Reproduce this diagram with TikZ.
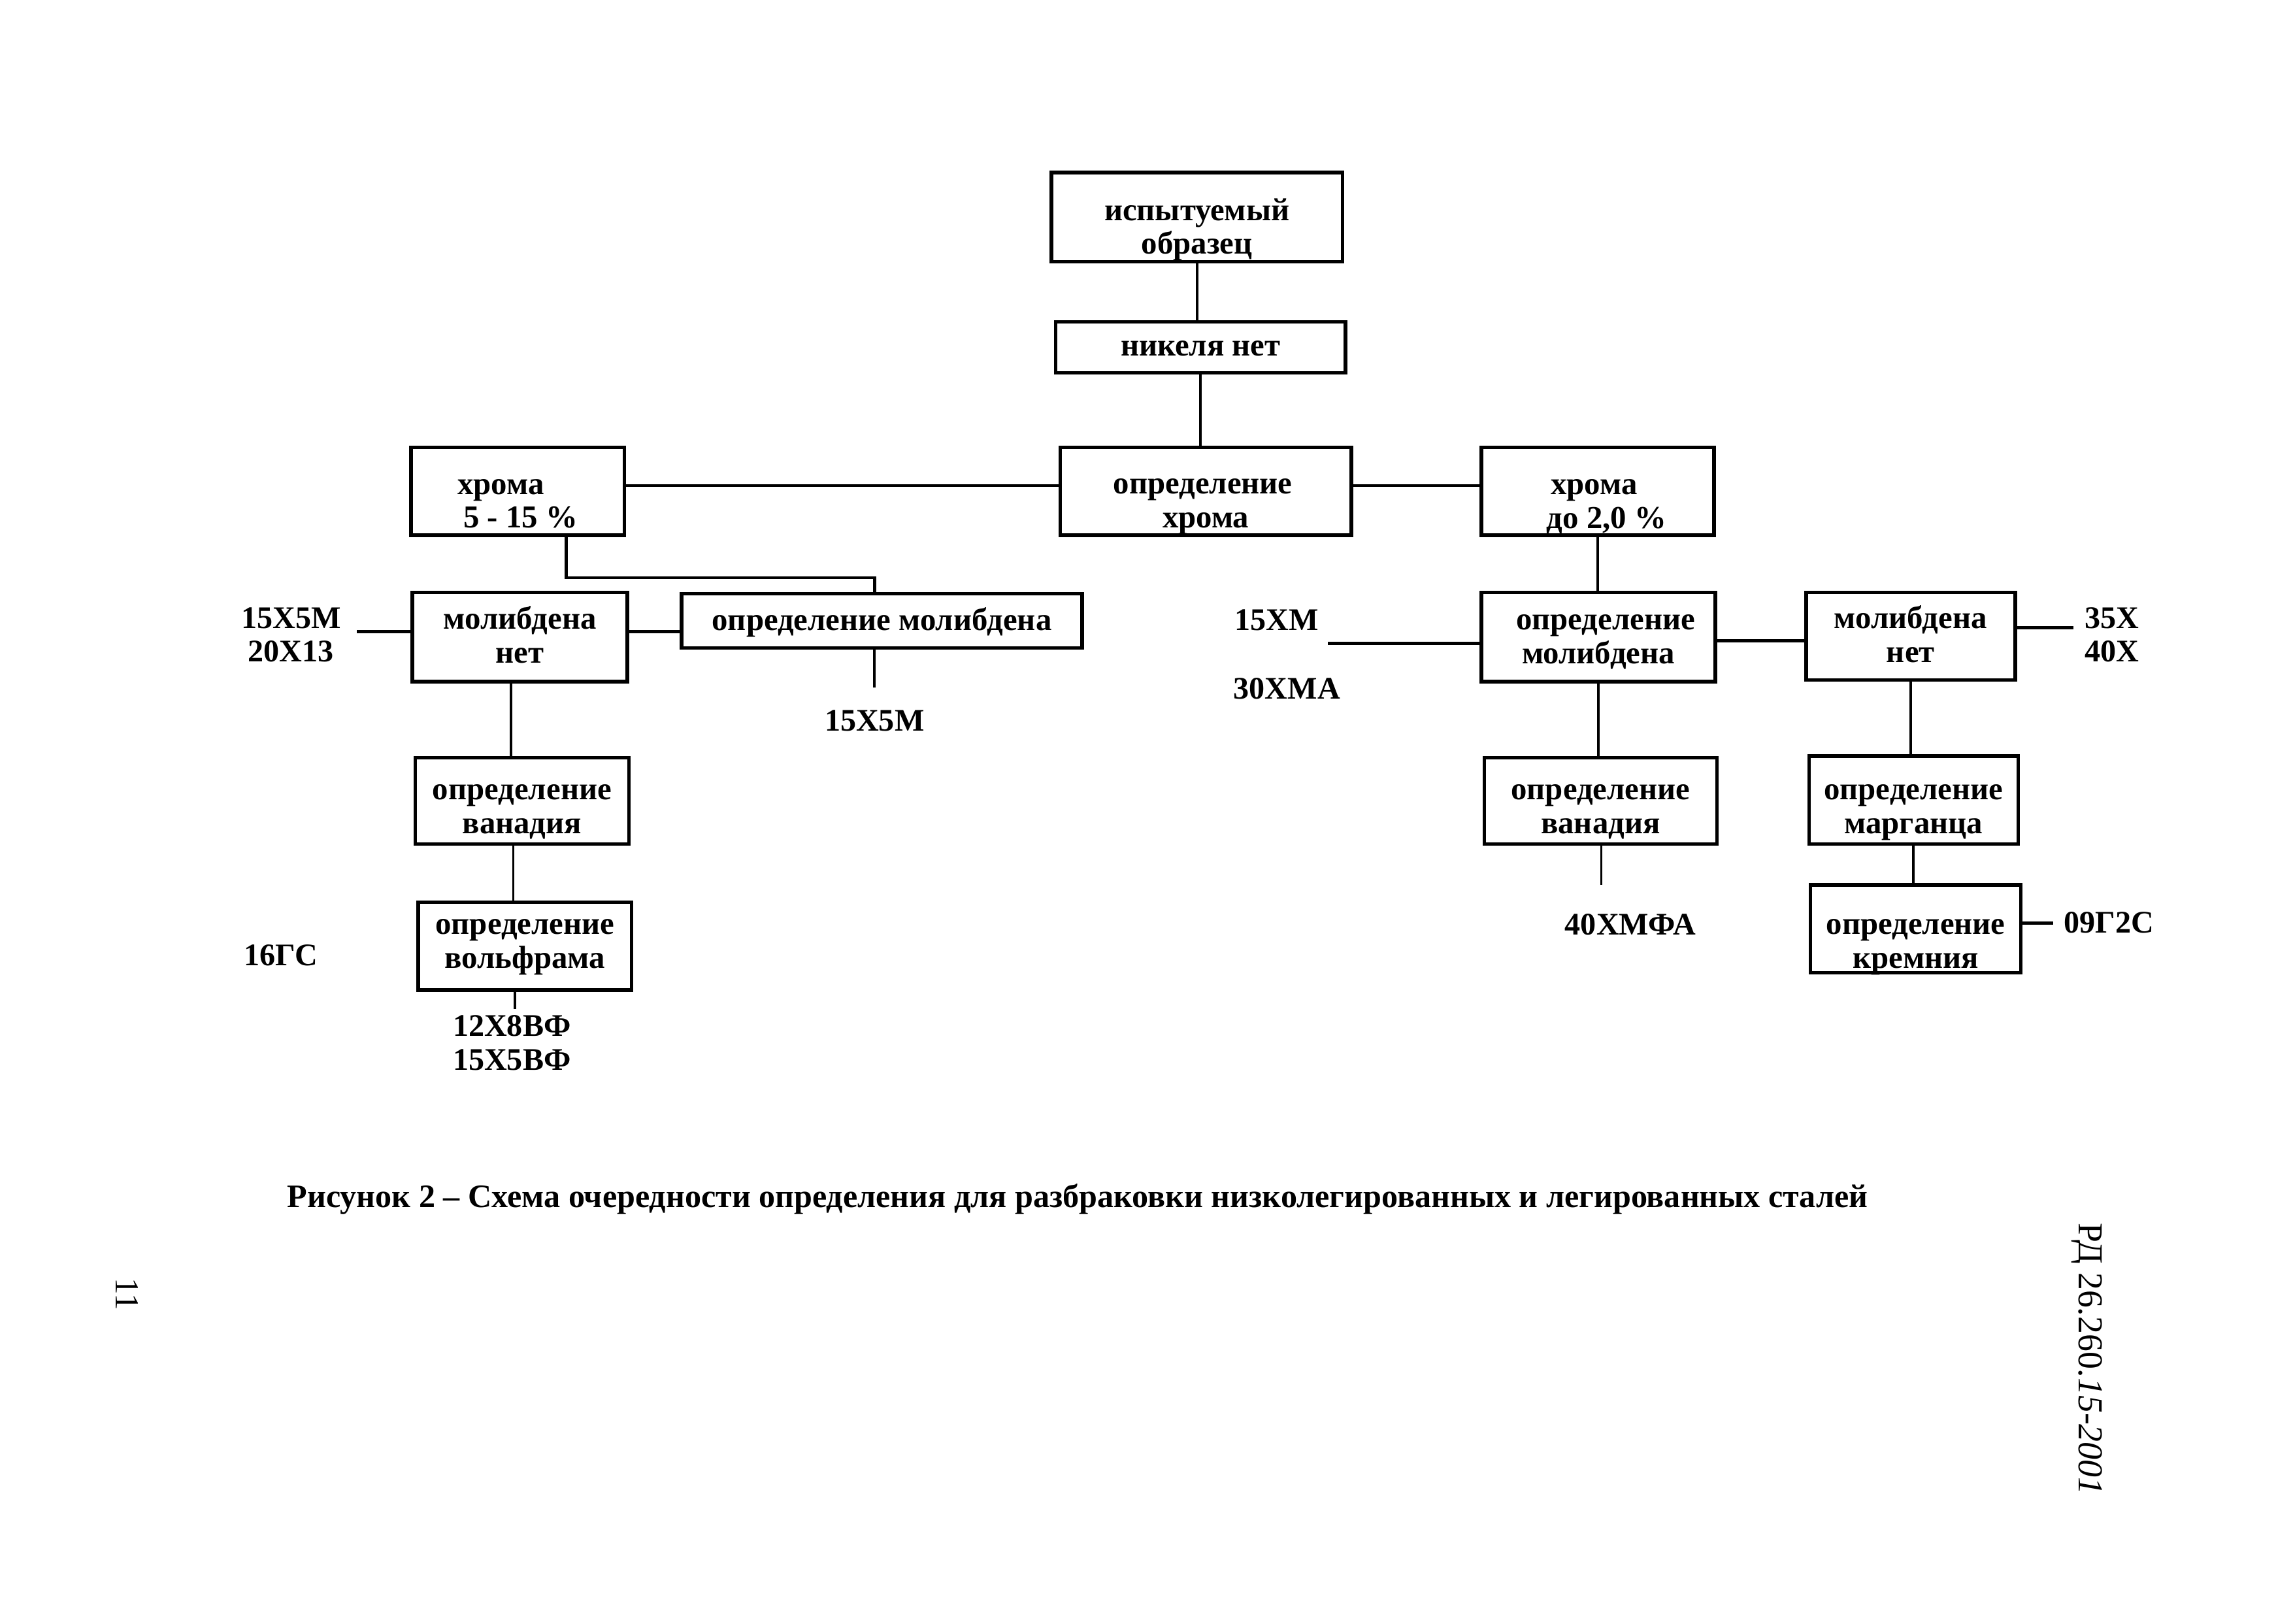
\documentclass[tikz,border=0pt]{standalone}
\usepackage{fontspec}
\setmainfont{Liberation Serif}
\begin{document}
\begin{tikzpicture}[x=1pt,y=-1pt,
  box/.style={draw,line width=2.4pt,inner sep=0pt},
  bt/.style={inner sep=0pt,align=center,font=\fontsize{21.8}{23}\selectfont\bfseries},
  two/.style 2 args={label={[bt,yshift=#1]center:{#2}}},
  twol/.style 2 args={label={[bt,align=left,yshift=#1]center:{#2}}},
  one/.style={label={[bt,yshift=-1pt]center:{#1}}},
  lbl/.style={inner sep=1pt,align=center,font=\fontsize{21.5}{23}\selectfont\bfseries},
  ln/.style={line width=2.2pt},
  thin/.style={line width=1.7pt}]
\useasboundingbox (0,0) rectangle (1568,1110);
% boxes
\node[box,minimum width=199pt,minimum height=61pt,two={-8.5pt}{испытуемый\\образец}] (A) at (818.5,148.5) {};
\node[box,minimum width=198pt,minimum height=35pt,one={никеля нет}] (B) at (821,237.5) {};
\node[box,minimum width=199pt,minimum height=60pt,two={-10.5pt}{\hspace*{-4pt}определение\\хрома}] (C) at (824.5,336) {};
\node[box,minimum width=146pt,minimum height=60pt,twol={-8.5pt}{хрома\\\hspace*{4pt}5 - 15 \%}] (L1) at (354,336) {};
\node[box,minimum width=159pt,minimum height=60pt,label={[bt,align=left,xshift=6pt,yshift=-10.5pt]center:{\hspace*{3pt}хрома\\до 2,0 \%}}] (R1) at (1092.5,336) {};
\node[box,minimum width=147pt,minimum height=61pt,two={1.5pt}{молибдена\\нет}] (L2a) at (355.5,435.5) {};
\node[box,minimum width=274pt,minimum height=37pt,one={определение молибдена}] (L2b) at (603,424.5) {};
\node[box,minimum width=146pt,minimum height=59pt,two={-7.5pt}{определение\\ванадия}] (L3) at (357,547.5) {};
\node[box,minimum width=146pt,minimum height=60pt,two={-0.5pt}{определение\\вольфрама}] (L4) at (359,647) {};
\node[box,minimum width=160pt,minimum height=61pt,two={-3.5pt}{\hspace*{10pt}определение\\молибдена}] (R2) at (1093,435.5) {};
\node[box,minimum width=143pt,minimum height=60pt,two={1.5pt}{молибдена\\нет}] (R2b) at (1306.5,435) {};
\node[box,minimum width=159pt,minimum height=59pt,two={-7.5pt}{определение\\ванадия}] (R3) at (1094.5,547.5) {};
\node[box,minimum width=143pt,minimum height=60pt,two={-8.5pt}{определение\\марганца}] (R3b) at (1308.5,547) {};
\node[box,minimum width=144pt,minimum height=60pt,two={-12.5pt}{определение\\кремния}] (R4b) at (1310,635) {};
% labels
\node[lbl] (g1) at (199,434) {15Х5М\\20Х13};
\node[lbl] (g2) at (598,493) {15Х5М};
\node[lbl] (g3) at (192,653) {16ГС};
\node[lbl] (g4) at (350,713) {12Х8ВФ\\15Х5ВФ};
\node[lbl] (g5) at (873,424) {15ХМ};
\node[lbl] (g6) at (880,471) {30ХМА};
\node[lbl] (g7) at (1444,434) {35Х\\40Х};
\node[lbl] (g8) at (1115,632) {40ХМФА};
\node[lbl] (g9) at (1442,631) {09Г2С};
\node[lbl,font=\fontsize{22.4}{24}\selectfont\bfseries] (cap) at (737,820) {Рисунок 2 -- Схема очередности определения для разбраковки низколегированных и легированных сталей};
\node[lbl,rotate=-90,font=\fontsize{23}{24}\selectfont] (pg) at (87,885) {11};
\node[lbl,rotate=-90,font=\fontsize{24}{25}\selectfont,anchor=west] (rd) at (1427,835) {РД 26.260.\textit{15-2001}};
% free ends
\coordinate (j1) at (598,395);
\coordinate (e1) at (244,432);
\coordinate (e2) at (598,470);
\coordinate (e3) at (352,690);
\coordinate (e4) at (908,440);
\coordinate (e5) at (1418,429);
\coordinate (e6) at (1095,605);
\coordinate (e7) at (1404,631);
% connectors
\draw[thin] (A.south) -- (A.south |- B.north);
\draw[thin] (B.south) -- (B.south |- C.north);
\draw[ln] (L1.east |- 0,332) -- (C.west |- 0,332);
\draw[ln] (C.east |- 0,332) -- (R1.west |- 0,332);
\draw[ln] ([xshift=33pt]L1.south) |- (j1) -- (j1 |- L2b.north);
\draw[ln] (L2a.east |- 0,432) -- (L2b.west |- 0,432);
\draw[ln] (e1) -- (L2a.west |- e1);
\draw[thin] (e2 |- L2b.south) -- (e2);
\draw[thin] ([xshift=-6pt]L2a.south) -- ([xshift=-6pt]L3.north -| L2a.south);
\draw[thin] ([xshift=-6pt]L3.south) -- ([xshift=-6pt]L4.north -| L3.south);
\draw[thin] (e3 |- L4.south) -- (e3);
\draw[thin] (R1.south) -- (R1.south |- R2.north);
\draw[ln] (e4) -- (R2.west |- e4);
\draw[ln] (R2.east |- 0,438) -- (R2b.west |- 0,438);
\draw[ln] (R2b.east |- e5) -- (e5);
\draw[thin] (R2.south) -- (R2.south |- R3.north);
\draw[thin] (e6 |- R3.south) -- (e6);
\draw[thin] (R2b.south) -- (R2b.south |- R3b.north);
\draw[thin] (R3b.south) -- (R3b.south |- R4b.north);
\draw[ln] (R4b.east |- e7) -- (e7);
\end{tikzpicture}
\end{document}
